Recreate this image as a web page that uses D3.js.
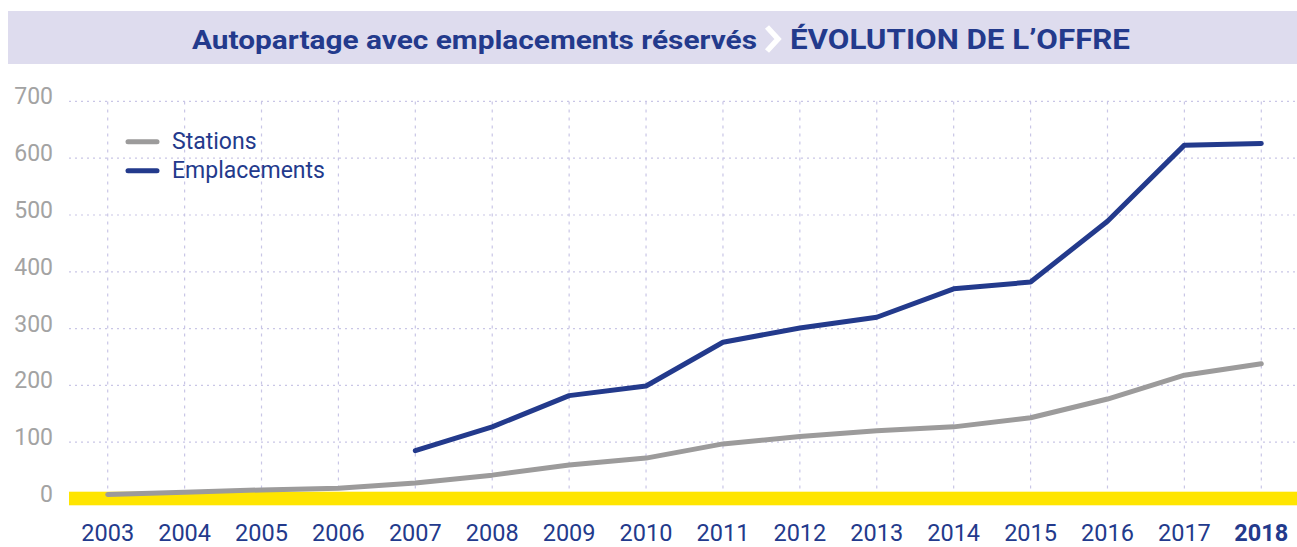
<!DOCTYPE html>
<html><head><meta charset="utf-8">
<script src="https://cdn.jsdelivr.net/npm/d3@7"></script>
<style>
html,body{margin:0;padding:0;background:#fff;}
svg{display:block;}
</style></head>
<body>
<svg id="chart" width="1297" height="547"></svg>
<script>
const years = [2003,2004,2005,2006,2007,2008,2009,2010,2011,2012,2013,2014,2015,2016,2017,2018];
const stations = [8,12,16,19,28,42,60,72,97,110,120,127,143,176,218,238];
const emplacements = [null,null,null,null,85,127,182,199,276,301,320,370,382,489,623,626];
const yTicks = [0,100,200,300,400,500,600,700];
const seriesNames = ["Stations","Emplacements"];
const titleMain = "Autopartage avec emplacements réservés";
const titleSub = "ÉVOLUTION DE L’OFFRE";

const navy = "#233a8c", gray = "#9c9b9b", yellow = "#ffe500", grid = "#c9c6e6";
const svg = d3.select("#chart");
const font = "Roboto, 'Liberation Sans', sans-serif";

// title band
svg.append("rect").attr("x",8).attr("y",11).attr("width",1289).attr("height",53).attr("fill","#dedcee");
svg.append("text").attr("x",192).attr("y",49).attr("font-family",font).attr("font-weight",700)
  .attr("font-size",26).attr("fill",navy).attr("textLength",565).attr("lengthAdjust","spacingAndGlyphs").text(titleMain);
svg.append("path").attr("d","M767,27 L778,39 L767,51").attr("fill","none").attr("stroke","#fff")
  .attr("stroke-width",5.5).attr("stroke-linejoin","miter");
svg.append("text").attr("x",790).attr("y",49).attr("font-family",font).attr("font-weight",700)
  .attr("font-size",27).attr("fill",navy).attr("textLength",340).attr("lengthAdjust","spacingAndGlyphs").text(titleSub);

const x = d3.scalePoint().domain(years).range([107.7,1261.3]);
const y = d3.scaleLinear().domain([0,700]).range([499,101.4]);

// horizontal grid
svg.append("g").selectAll("line").data(yTicks.filter(d=>d>0)).join("line")
  .attr("x1",69).attr("x2",1297).attr("y1",d=>y(d)).attr("y2",d=>y(d))
  .attr("stroke",grid).attr("stroke-width",1.2).attr("stroke-dasharray","2,4");
// vertical grid
svg.append("g").selectAll("line").data(years).join("line")
  .attr("x1",d=>x(d)).attr("x2",d=>x(d)).attr("y1",y(700)).attr("y2",y(0))
  .attr("stroke",grid).attr("stroke-width",1.2).attr("stroke-dasharray","3,5");

// yellow baseline
svg.append("rect").attr("x",69).attr("y",y(0)-7.3).attr("width",1228).attr("height",13.6).attr("fill",yellow);

// y axis labels
svg.append("g").selectAll("text").data(yTicks).join("text")
  .attr("x",53).attr("y",d=>y(d)+3).attr("text-anchor","end")
  .attr("font-family",font).attr("font-size",23).attr("fill","#a3a3a3").text(d=>d);

// x axis labels
svg.append("g").selectAll("text").data(years).join("text")
  .attr("x",d=>x(d)).attr("y",541).attr("text-anchor","middle")
  .attr("font-family",font).attr("font-size",23.5).attr("font-weight",(d,i)=>i===years.length-1?700:400)
  .attr("fill",navy).text(d=>d);

// lines
const line = d3.line().defined(d=>d.v!=null).x(d=>x(d.year)).y(d=>y(d.v));
const mk = arr => years.map((yr,i)=>({year:yr,v:arr[i]}));
svg.append("path").datum(mk(stations)).attr("d",line).attr("fill","none").attr("stroke",gray)
  .attr("stroke-width",5).attr("stroke-linecap","round").attr("stroke-linejoin","round");
svg.append("path").datum(mk(emplacements)).attr("d",line).attr("fill","none").attr("stroke",navy)
  .attr("stroke-width",5).attr("stroke-linecap","round").attr("stroke-linejoin","round");

// legend
const lg = svg.append("g");
[[gray,141.7],[navy,170.7]].forEach((c,i)=>{
  lg.append("line").attr("x1",128).attr("x2",157).attr("y1",c[1]).attr("y2",c[1])
    .attr("stroke",c[0]).attr("stroke-width",5).attr("stroke-linecap","round");
  lg.append("text").attr("x",172).attr("y",c[1]+7.5).attr("font-family",font).attr("font-size",23)
    .attr("fill",navy).text(seriesNames[i]);
});
</script>
</body></html>
